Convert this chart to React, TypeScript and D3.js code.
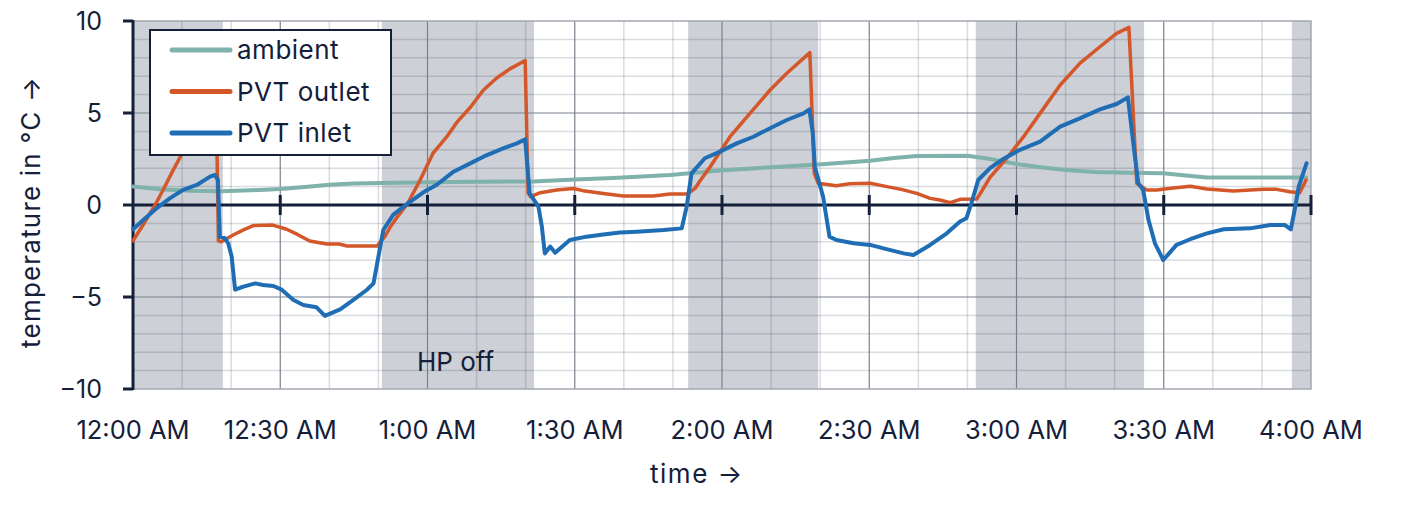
import React, { useRef, useEffect } from 'react';
import * as d3 from 'd3';

// minutes after midnight, °C
const ambient: [number, number][] = [
  [0, 1.0], [5.5, 0.85], [11.6, 0.78], [18, 0.75], [24, 0.8], [30, 0.87], [35, 0.98], [40, 1.1],
  [45, 1.17], [50.7, 1.2], [64.6, 1.25], [81.5, 1.28], [90, 1.38], [97.8, 1.47], [109.4, 1.63],
  [119.6, 1.88], [130, 2.05], [139.6, 2.2], [150.2, 2.4], [155, 2.55], [159.7, 2.66], [170, 2.68],
  [174.6, 2.5], [180.7, 2.2], [185, 2.05], [189.9, 1.9], [196, 1.8], [202.5, 1.75], [209.9, 1.72],
  [214, 1.62], [218.8, 1.5], [239, 1.5],
];

const pvtOutlet: [number, number][] = [
  [0, -1.95], [2, -1.1], [4.5, 0], [6.1, 0.8], [8, 1.8], [10, 2.8], [12, 3.6], [14, 4.2], [16, 4.7],
  [17.0, 4.9], [17.4, -1.95], [18, -2.0], [20.4, -1.63], [22.5, -1.35], [24.5, -1.12], [28.5, -1.09],
  [31.3, -1.32], [33.5, -1.6], [36, -1.96], [39.5, -2.12], [42, -2.12], [43.6, -2.23], [49.7, -2.23],
  [51.3, -1.72], [52.4, -1.2], [53.7, -0.7], [56, 0.1], [58.5, 1.36], [61.1, 2.8], [63.9, 3.7],
  [66, 4.5], [68.7, 5.3], [71.4, 6.25], [74.1, 6.9], [76.8, 7.4], [79.9, 7.85], [80.5, 0.65],
  [81, 0.45], [83, 0.67], [86.3, 0.82], [89.7, 0.9], [91.7, 0.78], [95.8, 0.63], [99.9, 0.49],
  [106, 0.49], [109.4, 0.6], [113, 0.6], [114.5, 0.9], [115.5, 1.3], [117.6, 2.08], [121.6, 3.7],
  [125.7, 4.98], [129.8, 6.25], [133.2, 7.16], [137.9, 8.28], [138.8, 1.72], [139.6, 1.18],
  [143.3, 1.05], [146, 1.15], [150.2, 1.18], [153.6, 1.0], [156.5, 0.85], [159.7, 0.63], [162.4, 0.36],
  [164.4, 0.27], [166.5, 0.13], [168.5, 0.31], [171.9, 0.33], [172.8, 0.7], [174.6, 1.5], [178, 2.54],
  [181.4, 3.7], [184.8, 4.98], [188.9, 6.52], [192.9, 7.7], [197, 8.6], [200.4, 9.33], [202.9, 9.65],
  [204.5, 1.18], [206.5, 0.82], [208.6, 0.82], [211, 0.9], [215.4, 1.02], [218.8, 0.87], [224.2, 0.76],
  [230.3, 0.85], [233, 0.85], [235.7, 0.72], [237.7, 0.67], [239, 1.36],
];

const pvtInlet: [number, number][] = [
  [0, -1.32], [2.1, -0.82], [4.8, -0.18], [7.5, 0.36], [10.2, 0.82], [13, 1.09], [15.7, 1.54],
  [16.7, 1.63], [17.3, 1.36], [17.7, -1.72], [18.7, -1.8], [19.4, -2.08], [20.1, -2.8], [20.8, -4.6],
  [22.5, -4.44], [24.9, -4.26], [26.5, -4.35], [28.6, -4.4], [30.3, -4.6], [32.7, -5.16], [34.7, -5.43],
  [37.4, -5.56], [39.1, -6.03], [42.2, -5.67], [44.9, -5.16], [47.6, -4.62], [49, -4.26], [50, -2.8],
  [51, -1.36], [53, -0.54], [55.8, 0.05], [59.3, 0.72], [61.9, 1.1], [65.3, 1.81], [68.7, 2.26],
  [72, 2.7], [75.4, 3.08], [78.2, 3.35], [79.9, 3.57], [80.8, 0.63], [82.6, -0.09], [83.3, -1.18],
  [83.9, -2.63], [85, -2.26], [86, -2.59], [89, -1.9], [92.4, -1.72], [95.8, -1.6], [99.2, -1.5],
  [102.6, -1.45], [108.1, -1.36], [111.8, -1.27], [112.8, -0.09], [113.8, 1.72], [116.5, 2.54],
  [119.6, 2.9], [123, 3.35], [126.4, 3.71], [129.8, 4.17], [133.2, 4.62], [136.6, 4.98], [137.8, 5.2],
  [138.5, 3.9], [138.9, 2.08], [140.6, 0.45], [141.9, -1.72], [143.3, -1.9], [146.8, -2.08],
  [150.2, -2.17], [152.9, -2.36], [157, -2.63], [159, -2.72], [162.4, -2.17], [165.8, -1.54],
  [168.5, -0.9], [169.8, -0.72], [170.8, 0.09], [172.2, 1.36], [174.6, 2.0], [177.3, 2.5], [180.7, 3.0],
  [184.8, 3.44], [188.9, 4.26], [192.9, 4.71], [197, 5.2], [200.4, 5.49], [202.7, 5.85], [203.8, 3.35],
  [204.8, 1.18], [205.8, 0.82], [206.9, -0.82], [208.2, -2.08], [209.9, -2.99], [212.6, -2.17],
  [215.4, -1.86], [218.8, -1.54], [222.2, -1.32], [227.6, -1.27], [231.7, -1.09], [234.7, -1.09],
  [235.9, -1.32], [236.8, -0.09], [237.5, 1.0], [239.1, 2.27],
];

// periods shaded grey (start, end in minutes)
const shadedPeriods: [number, number][] = [
  [0, 18.3], [50.7, 81.7], [113.1, 139.6], [171.7, 206], [236.1, 240],
];

const timeTicks = [0, 30, 60, 90, 120, 150, 180, 210, 240];
const timeLabels = ['12:00 AM', '12:30 AM', '1:00 AM', '1:30 AM', '2:00 AM', '2:30 AM', '3:00 AM', '3:30 AM', '4:00 AM'];
const tempTicks = [10, 5, 0, -5, -10];
const tempLabels = ['10', '5', '0', '\u22125', '\u221210'];

const seriesNames = ['ambient', 'PVT outlet', 'PVT inlet'];
const seriesColors = ['#7fb2ab', '#d4572a', '#1f6db4'];
const seriesWidths = [4, 3.5, 4];

const annotation = { text: 'HP off', t: 65.7, v: -9 };

const FONT = 'Inter, "Noto Sans", sans-serif';
const INK = '#14203a';

const App: React.FC = () => {
  const svgRef = useRef<SVGSVGElement>(null);

  useEffect(() => {
    if (!svgRef.current) return;
    d3.select(svgRef.current).selectAll('*').remove();

    const W = 1417;
    const H = 506;
    const margin = { top: 21, right: 106, bottom: 117, left: 133 };
    const width = W - margin.left - margin.right;
    const height = H - margin.top - margin.bottom;

    const svg = d3.select(svgRef.current)
      .attr('width', W)
      .attr('height', H)
      .style('font-family', FONT);

    const g = svg.append('g')
      .attr('transform', `translate(${margin.left},${margin.top})`);

    const x = d3.scaleLinear().domain([0, 240]).range([0, width]);
    const y = d3.scaleLinear().domain([-10, 10]).range([height, 0]);

    // shaded periods
    g.selectAll('.shade')
      .data(shadedPeriods)
      .enter()
      .append('rect')
      .attr('x', d => x(d[0]))
      .attr('width', d => x(d[1]) - x(d[0]))
      .attr('y', 0)
      .attr('height', height)
      .attr('fill', '#cdd0d6');

    // minor grid
    const minorX = d3.range(10, 240, 10).filter(m => m % 30 !== 0);
    const minorY = d3.range(-9, 10, 1).filter(v => v % 5 !== 0);
    g.selectAll('.minor-x')
      .data(minorX)
      .enter()
      .append('line')
      .attr('x1', d => x(d)).attr('x2', d => x(d))
      .attr('y1', 0).attr('y2', height)
      .attr('stroke', 'rgba(40,50,70,0.17)')
      .attr('stroke-width', 1.5);
    g.selectAll('.minor-y')
      .data(minorY)
      .enter()
      .append('line')
      .attr('x1', 0).attr('x2', width)
      .attr('y1', d => y(d)).attr('y2', d => y(d))
      .attr('stroke', 'rgba(40,50,70,0.17)')
      .attr('stroke-width', 1.5);

    // major grid
    g.selectAll('.major-x')
      .data(timeTicks.slice(1, -1))
      .enter()
      .append('line')
      .attr('x1', d => x(d)).attr('x2', d => x(d))
      .attr('y1', 0).attr('y2', height)
      .attr('stroke', '#7a808b')
      .attr('stroke-width', 1.2);
    g.selectAll('.major-y')
      .data([5, -5])
      .enter()
      .append('line')
      .attr('x1', 0).attr('x2', width)
      .attr('y1', d => y(d)).attr('y2', d => y(d))
      .attr('stroke', '#7a808b')
      .attr('stroke-width', 1.2);

    // plot border
    g.append('rect')
      .attr('x', 0).attr('y', 0)
      .attr('width', width).attr('height', height)
      .attr('fill', 'none')
      .attr('stroke', '#a3a8b0')
      .attr('stroke-width', 1.5);

    // zero axis with ticks
    g.append('line')
      .attr('x1', 0).attr('x2', width)
      .attr('y1', y(0)).attr('y2', y(0))
      .attr('stroke', INK)
      .attr('stroke-width', 3);
    g.selectAll('.zero-tick')
      .data(timeTicks.slice(1))
      .enter()
      .append('line')
      .attr('x1', d => x(d)).attr('x2', d => x(d))
      .attr('y1', y(0) - 10).attr('y2', y(0) + 10)
      .attr('stroke', INK)
      .attr('stroke-width', 3);

    // left spine
    g.append('line')
      .attr('x1', 0).attr('x2', 0)
      .attr('y1', -1).attr('y2', height + 1)
      .attr('stroke', INK)
      .attr('stroke-width', 3);
    g.selectAll('.y-tick')
      .data(tempTicks)
      .enter()
      .append('line')
      .attr('x1', -10).attr('x2', 0)
      .attr('y1', d => y(d)).attr('y2', d => y(d))
      .attr('stroke', INK)
      .attr('stroke-width', 3);

    // series
    const line = d3.line<[number, number]>()
      .x(d => x(d[0]))
      .y(d => y(d[1]))
      .curve(d3.curveLinear);

    [ambient, pvtOutlet, pvtInlet].forEach((series, i) => {
      g.append('path')
        .datum(series)
        .attr('d', line)
        .attr('fill', 'none')
        .attr('stroke', seriesColors[i])
        .attr('stroke-width', seriesWidths[i])
        .attr('stroke-linejoin', 'round')
        .attr('stroke-linecap', 'round');
    });

    // annotation
    g.append('text')
      .attr('x', x(annotation.t))
      .attr('y', y(annotation.v))
      .attr('text-anchor', 'middle')
      .attr('font-size', '26px')
      .attr('fill', INK)
      .text(annotation.text);

    // y labels
    g.selectAll('.y-label')
      .data(tempTicks)
      .enter()
      .append('text')
      .attr('x', -31)
      .attr('y', d => y(d) + 9)
      .attr('text-anchor', 'end')
      .attr('font-size', '25px')
      .attr('fill', INK)
      .text((d, i) => tempLabels[i]);

    // x labels
    g.selectAll('.x-label')
      .data(timeTicks)
      .enter()
      .append('text')
      .attr('x', d => x(d))
      .attr('y', height + 50)
      .attr('text-anchor', 'middle')
      .attr('font-size', '25.5px')
      .attr('fill', INK)
      .text((d, i) => timeLabels[i]);

    // axis titles
    svg.append('text')
      .attr('x', 697)
      .attr('y', 483)
      .attr('text-anchor', 'middle')
      .attr('font-size', '26px')
      .attr('letter-spacing', '1.5px')
      .attr('fill', INK)
      .text('time \u2192');

    svg.append('text')
      .attr('transform', 'translate(40,212) rotate(-90)')
      .attr('text-anchor', 'middle')
      .attr('font-size', '26px')
      .attr('letter-spacing', '1.2px')
      .attr('fill', INK)
      .text('temperature in \u00B0C \u2192');

    // legend
    const legend = svg.append('g')
      .attr('transform', 'translate(150,30)');
    legend.append('rect')
      .attr('width', 241)
      .attr('height', 125)
      .attr('fill', '#ffffff')
      .attr('stroke', INK)
      .attr('stroke-width', 2);

    const items = legend.selectAll('.legend-item')
      .data(seriesNames)
      .enter()
      .append('g')
      .attr('transform', (d, i) => `translate(0, ${20 + i * 41.5})`);
    items.append('line')
      .attr('x1', 22).attr('x2', 80)
      .attr('y1', 0).attr('y2', 0)
      .attr('stroke', (d, i) => seriesColors[i])
      .attr('stroke-width', 5)
      .attr('stroke-linecap', 'round');
    items.append('text')
      .attr('x', 87)
      .attr('y', 9)
      .attr('font-size', '26px')
      .attr('letter-spacing', '0.5px')
      .attr('fill', INK)
      .text(d => d);
  }, []);

  return (
    <svg ref={svgRef} style={{ position: 'absolute', left: 0, top: 0 }}></svg>
  );
};

export default App;
